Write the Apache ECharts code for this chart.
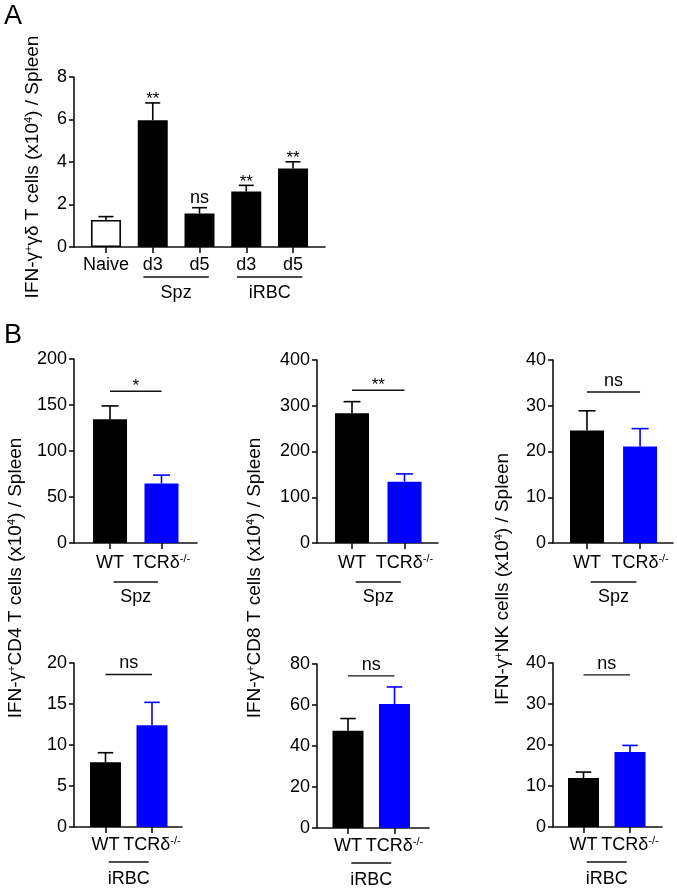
<!DOCTYPE html>
<html><head><meta charset="utf-8">
<script src="https://cdn.jsdelivr.net/npm/echarts@6/dist/echarts.min.js"></script>
<style>html,body{margin:0;padding:0;background:#fff}#c{width:677px;height:890px}</style>
</head><body><div id="c"></div>
<script>
// ---------- Panel A data ----------
const catsA = ['Naive', 'd3', 'd5', 'd3', 'd5'];
const valsA = [1.27, 5.97, 1.58, 2.61, 3.69];
const errA  = [1.43, 6.78, 1.85, 2.90, 4.01];
const starsA = ['', '**', 'ns', '**', '**'];
const groupNamesA = ['Spz', 'iRBC'];
const groupCatsA = [[1, 2], [3, 4]];
const yMaxA = 8, yStepA = 2;
const titleA = 'IFN-γ{s|+}γδ T cells (x10{s|4}) / Spleen';

// ---------- Panel B data ----------
const catsB = ['WT', 'TCRδ-/-'];
const valsCD4Spz = [134.5, 64.7],  errCD4Spz = [149, 73.8];
const valsCD8Spz = [283.6, 133.8], errCD8Spz = [309, 151];
const valsNKSpz  = [24.6, 21.1],   errNKSpz  = [28.9, 25.0];
const valsCD4iRBC = [7.9, 12.4],   errCD4iRBC = [9.06, 15.2];
const valsCD8iRBC = [47.5, 60.5],  errCD8iRBC = [53.4, 68.8];
const valsNKiRBC  = [11.95, 18.3], errNKiRBC  = [13.4, 19.9];
const sigB = ['*', '**', 'ns', 'ns', 'ns', 'ns'];
const sigLevelB = [165, 334, 33, 18.6, 74.2, 37.1];
const yMaxB = [200, 400, 40, 20, 80, 40];
const yStepB = [50, 100, 10, 5, 20, 10];
const groupB = ['Spz', 'Spz', 'Spz', 'iRBC', 'iRBC', 'iRBC'];
const titlesB = [
  'IFN-γ{s|+}CD4 T cells (x10{s|4}) / Spleen',
  'IFN-γ{s|+}CD8 T cells (x10{s|4}) / Spleen',
  'IFN-γ{s|+}NK cells (x10{s|4}) / Spleen'
];

// ---------- styles / layout ----------
const FONT = '"Liberation Sans", Arial, sans-serif';
const AX = '#111';
const BLACK = '#000000', BLUE = '#0000ff';
const richCat = {
  n: {fontSize: 18, fontFamily: FONT, color: '#000', lineHeight: 20},
  s: {fontSize: 11, fontFamily: FONT, color: '#000', lineHeight: 11, verticalAlign: 'top'}
};
const layoutB = [
  {left: 74,  top: 359, width: 123, height: 184, xmin: -0.70,  xmax: 1.69,  bw: 34, lab: 10, gl: 39, gt: 54},
  {left: 317, top: 360, width: 121, height: 183, xmin: -0.667, xmax: 1.638, bw: 34, lab: 10, gl: 39, gt: 54},
  {left: 553, top: 360, width: 120, height: 183, xmin: -0.64,  xmax: 1.62,  bw: 34, lab: 10, gl: 39, gt: 54},
  {left: 74,  top: 663, width: 108, height: 164, xmin: -0.677, xmax: 1.645, bw: 31, lab: 8,  gl: 35, gt: 52},
  {left: 317, top: 664, width: 112, height: 164, xmin: -0.667, xmax: 1.742, bw: 31, lab: 8,  gl: 35, gt: 52},
  {left: 553, top: 663, width: 109, height: 164, xmin: -0.656, xmax: 1.688, bw: 31, lab: 8,  gl: 35, gt: 52}
];

function fmtCat(name) {
  const m = name.match(/^(.*?)(-\/-)?$/);
  return '{n|' + m[1] + '}' + (m[2] ? '{s|' + m[2] + '}' : '');
}

const grids = [], xAxes = [], yAxes = [], series = [];

function addPanel(cfg) {
  const i = grids.length;
  const idx = cfg.cats.map((_, k) => k);
  grids.push({left: cfg.left, top: cfg.top, width: cfg.width, height: cfg.height, containLabel: false});
  xAxes.push({
    type: 'value', gridIndex: i, min: cfg.xmin, max: cfg.xmax,
    splitLine: {show: false},
    axisLine: {show: true, onZero: false, lineStyle: {color: AX, width: 1.6}},
    axisTick: {show: true, customValues: idx, length: 6, lineStyle: {color: AX, width: 1.6}},
    axisLabel: {show: true, customValues: idx, margin: cfg.lab, formatter: v => fmtCat(cfg.cats[Math.round(v)]), rich: richCat}
  });
  yAxes.push({
    type: 'value', gridIndex: i, min: 0, max: cfg.ymax, interval: cfg.step,
    splitLine: {show: false},
    axisLine: {show: true, onZero: false, lineStyle: {color: AX, width: 1.6}},
    axisTick: {show: true, length: 5, lineStyle: {color: AX, width: 1.6}},
    axisLabel: {margin: 7, fontSize: 18, fontFamily: FONT, color: '#000'}
  });
  series.push({
    type: 'bar', xAxisIndex: i, yAxisIndex: i, barWidth: cfg.bw, animation: false,
    data: cfg.vals.map((v, k) => ({value: [k, v], itemStyle: cfg.styles[k]}))
  });
  series.push({
    type: 'custom', xAxisIndex: i, yAxisIndex: i, clip: false, animation: false, z: 3,
    data: cfg.vals.map((v, k) => [k, v, cfg.errs[k]]),
    renderItem: function (params, api) {
      const x = api.value(0), y = api.value(1), e = api.value(2);
      const p0 = api.coord([x, y]), p1 = api.coord([x, e]);
      const c = cfg.errColors[params.dataIndex];
      const h = cfg.bw / 4;
      return {type: 'group', children: [
        {type: 'line', shape: {x1: p0[0], y1: p0[1], x2: p1[0], y2: p1[1]}, style: {stroke: c, lineWidth: 1.6}},
        {type: 'line', shape: {x1: p1[0] - h, y1: p1[1], x2: p1[0] + h, y2: p1[1]}, style: {stroke: c, lineWidth: 1.6}}
      ]};
    }
  });
  series.push({
    type: 'custom', xAxisIndex: i, yAxisIndex: i, clip: false, animation: false,
    data: cfg.groups.map(g => [g[1], g[2]]),
    renderItem: function (params, api) {
      const a = api.coord([api.value(0) - cfg.gpad, 0]);
      const b = api.coord([api.value(1) + cfg.gpad, 0]);
      const yl = a[1] + cfg.gl, yt = a[1] + cfg.gt;
      return {type: 'group', children: [
        {type: 'line', shape: {x1: a[0], y1: yl, x2: b[0], y2: yl}, style: {stroke: AX, lineWidth: 1.4}},
        {type: 'text', x: (a[0] + b[0]) / 2, y: yt, style: {text: cfg.groups[params.dataIndex][0], fill: '#000', fontSize: 18, fontFamily: FONT, align: 'center', verticalAlign: 'middle'}}
      ]};
    }
  });
  return i;
}

const iA = addPanel({
  left: 74, top: 77, width: 251, height: 170, xmin: -0.684, xmax: 4.684,
  cats: catsA, vals: valsA, errs: errA, ymax: yMaxA, step: yStepA, bw: 30, lab: 8,
  styles: valsA.map((_, k) => k === 0 ? {color: '#fff', borderColor: BLACK, borderWidth: 1.6} : {color: BLACK}),
  errColors: valsA.map(() => BLACK),
  groups: groupNamesA.map((n, k) => [n, groupCatsA[k][0], groupCatsA[k][1]]),
  gpad: 0.2, gl: 30, gt: 46
});
series.push({
  type: 'custom', xAxisIndex: iA, yAxisIndex: iA, clip: false, animation: false,
  data: errA.map((e, k) => [k, e]),
  renderItem: function (params, api) {
    const t = starsA[params.dataIndex];
    if (!t) return null;
    const p = api.coord([api.value(0), api.value(1)]);
    const isNs = t === 'ns';
    return {type: 'text', x: p[0], y: isNs ? p[1] - 1 : p[1] + 5,
      style: {text: t, fill: '#000', fontSize: isNs ? 18 : 17, fontFamily: FONT, align: 'center', verticalAlign: 'bottom'}};
  }
});

const valsB = [valsCD4Spz, valsCD8Spz, valsNKSpz, valsCD4iRBC, valsCD8iRBC, valsNKiRBC];
const errsB = [errCD4Spz, errCD8Spz, errNKSpz, errCD4iRBC, errCD8iRBC, errNKiRBC];
valsB.forEach((vals, p) => {
  const L = layoutB[p];
  const i = addPanel({
    left: L.left, top: L.top, width: L.width, height: L.height, xmin: L.xmin, xmax: L.xmax,
    cats: catsB, vals: vals, errs: errsB[p], ymax: yMaxB[p], step: yStepB[p], bw: L.bw, lab: L.lab,
    styles: [{color: BLACK}, {color: BLUE}],
    errColors: [BLACK, BLUE],
    groups: [[groupB[p], 0, 1]], gpad: -0.07, gl: L.gl, gt: L.gt
  });
  series.push({
    type: 'custom', xAxisIndex: i, yAxisIndex: i, clip: false, animation: false,
    data: [[0, 1, sigLevelB[p]]],
    renderItem: function (params, api) {
      const a = api.coord([api.value(0), api.value(2)]);
      const b = api.coord([api.value(1), api.value(2)]);
      const t = sigB[p];
      const isNs = t === 'ns';
      return {type: 'group', children: [
        {type: 'line', shape: {x1: a[0], y1: a[1], x2: b[0], y2: b[1]}, style: {stroke: AX, lineWidth: 1.4}},
        {type: 'text', x: (a[0] + b[0]) / 2, y: isNs ? a[1] - 2 : a[1] + 4,
          style: {text: t, fill: '#000', fontSize: isNs ? 18 : 17, fontFamily: FONT, align: 'center', verticalAlign: 'bottom'}}
      ]};
    }
  });
});

const richTitle = {s: {fontSize: 11, fontFamily: FONT, fill: '#000', verticalAlign: 'top', lineHeight: 11}};
function vTitle(text, x, y) {
  return {type: 'text', x: x, y: y, rotation: Math.PI / 2,
    style: {text: text, fill: '#000', fontSize: 19, fontFamily: FONT, align: 'center', verticalAlign: 'middle', rich: richTitle}};
}
const graphics = [
  {type: 'text', x: 4, y: 3, style: {text: 'A', fill: '#000', fontSize: 27, fontFamily: FONT}},
  {type: 'text', x: 4, y: 322, style: {text: 'B', fill: '#000', fontSize: 27, fontFamily: FONT}},
  vTitle(titleA, 33, 167),
  vTitle(titlesB[0], 16, 578),
  vTitle(titlesB[1], 255, 578),
  vTitle(titlesB[2], 503, 579)
];

const chart = echarts.init(document.getElementById('c'));
chart.setOption({
  animation: false,
  backgroundColor: '#fff',
  textStyle: {fontFamily: FONT},
  grid: grids, xAxis: xAxes, yAxis: yAxes, series: series,
  graphic: graphics
});
</script></body></html>
